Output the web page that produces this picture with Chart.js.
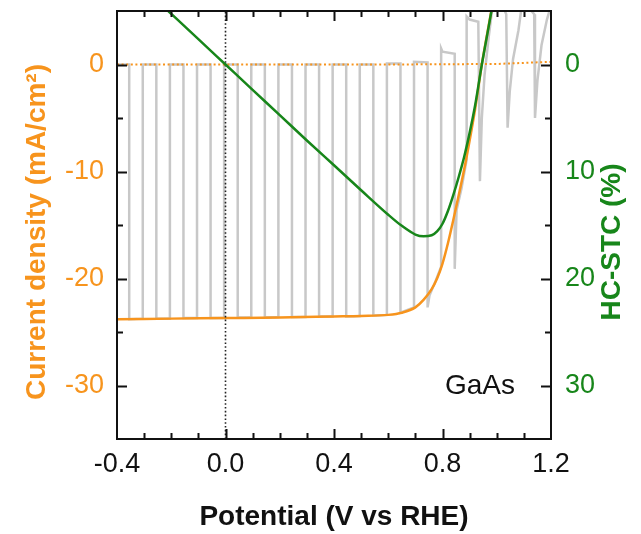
<!DOCTYPE html>
<html>
<head>
<meta charset="utf-8">
<title>GaAs chopped J-V</title>
<script src="https://cdn.jsdelivr.net/npm/chart.js@4.4.1/dist/chart.umd.min.js"></script>
<style>
  html, body { margin: 0; padding: 0; background: #fff; }
  #jvChart { display: block; }
</style>
</head>
<body>
<canvas id="jvChart" width="641" height="534"></canvas>
<script>
// axis ticks
var potTicks = [-0.4, 0.0, 0.4, 0.8, 1.2];
var curTicks = [-30, -20, -10, 0];
var stcTicks = [0, 10, 20, 30];

// light current (mA/cm2) vs potential (V vs RHE)
var lightV = [-0.4, -0.2, 0.0, 0.2, 0.4, 0.5, 0.6, 0.65, 0.7, 0.73, 0.76, 0.78, 0.80, 0.82, 0.84, 0.86, 0.88, 0.90, 0.92, 0.945, 0.97, 1.0];
var lightJ = [-23.8, -23.75, -23.7, -23.65, -23.55, -23.5, -23.4, -23.2, -22.7, -22.0, -21.0, -20.0, -18.6, -16.7, -14.5, -12.2, -9.8, -7.1, -4.2, 0.0, 3.6, 7.8];

// dark current
var darkV = [-0.4, 0.6, 1.0, 1.2];
var darkJ = [0.0, 0.0, 0.05, 0.25];

// half-cell solar-to-current efficiency (%)
var stcV = [-0.22, -0.1, 0.0, 0.1, 0.2, 0.3, 0.4, 0.5, 0.6, 0.65, 0.7, 0.73, 0.76, 0.78, 0.80, 0.82, 0.84, 0.86, 0.88, 0.90, 0.92, 0.945, 0.97, 1.0];
var stcVal = [-5.2, -2.37, 0.0, 2.37, 4.73, 7.1, 9.42, 11.75, 14.04, 15.08, 15.89, 16.06, 15.96, 15.6, 14.88, 13.69, 12.18, 10.49, 8.62, 6.39, 3.86, 0.0, -3.5, -7.8];

// chopped illumination scan
var chopV = [
  -0.400, -0.355, -0.355, -0.305, -0.305, -0.255, -0.255, -0.205, -0.205, -0.155,
  -0.155, -0.105, -0.105, -0.055, -0.055, -0.005, -0.005,  0.045,  0.045,  0.095,
   0.095,  0.145,  0.145,  0.195,  0.195,  0.245,  0.245,  0.295,  0.295,  0.345,
   0.345,  0.395,  0.395,  0.445,  0.445,  0.495,  0.495,  0.545,  0.545,  0.595,
   0.595,  0.645,  0.645,  0.695,  0.695,  0.745,  0.745,  0.752,  0.775,  0.795,
   0.795,  0.800,  0.845,  0.845,  0.852,  0.870,  0.889,  0.889,  0.900,  0.932,
   0.938,  0.945,  0.955,  0.970,  0.985,  0.995,  1.035,  1.040,  1.048,  1.060,
   1.080,  1.095,  1.138,  1.141,  1.150,  1.165,  1.185,  1.200
];
var chopJ = [
   0.0,   0.0, -23.8, -23.75,  0.0,  0.0, -23.75, -23.75, 0.0,  0.0,
  -23.7, -23.7,  0.0,   0.0, -23.7, -23.7,  0.0,   0.0, -23.65, -23.65,
   0.0,   0.0, -23.65, -23.6,  0.0,  0.0, -23.6, -23.6,  0.0,  0.0,
  -23.55, -23.55, 0.0,  0.0, -23.55, -23.5, 0.0,  0.0, -23.45, -23.4,
   0.1,   0.1, -23.2, -22.7,  0.25,  0.2, -22.7, -21.6, -20.2, -18.9,
   1.5,   1.2,   1.0, -19.1, -13.6, -11.6, -8.9,  4.5,  4.2,  4.0,
  -10.9,  -5.0, -1.0,  2.5,  5.5,  7.0,  4.7, -5.9, -2.5,  0.5,
   3.2,   6.0,   4.7, -5.0, -1.5,  1.8,  4.2,  5.5
];

// V = 0 guide
var zeroV = [0, 0];
var zeroJ = [-35, 5];

var ORANGE = '#f7941d';
var GREEN = '#17861a';
var FONT = "'Liberation Sans', Arial, sans-serif";

function toPoints(xs, ys) {
    return xs.map(function (x, i) { return { x: x, y: ys[i] }; });
}

function fixTicks(values) {
    return function (scale) {
        scale.ticks = values.map(function (v) { return { value: v }; });
    };
}

// fixed axis box, no extra room for half tick labels
function fixSize(w, h) {
    return function (scale) {
        if (w) scale.width = w;
        if (h) scale.height = h;
        scale.paddingTop = 0;
        scale.paddingBottom = 0;
        scale.paddingLeft = 0;
        scale.paddingRight = 0;
    };
}

// frame, inward tick marks, y titles and sample label
var axisDecor = {
    id: 'axisDecor',
    afterDatasetsDraw: function (chart) {
        var ctx = chart.ctx;
        var a = chart.chartArea;
        var xs = chart.scales.x, yl = chart.scales.y, yr = chart.scales.y2;

        ctx.save();
        ctx.strokeStyle = '#111';
        ctx.lineWidth = 2;
        ctx.beginPath();
        for (var k = -3; k <= 11; k++) {
            var px = Math.round(xs.getPixelForValue(k / 10)) + 0.5;
            var len = (k % 4 === 0) ? 10 : 6;
            ctx.moveTo(px, a.bottom);
            ctx.lineTo(px, a.bottom - len);
            ctx.moveTo(px, a.top);
            ctx.lineTo(px, a.top + len);
        }
        for (var j = -30; j <= 0; j += 5) {
            var py = Math.round(yl.getPixelForValue(j)) + 0.5;
            ctx.moveTo(a.left, py);
            ctx.lineTo(a.left + (j % 10 === 0 ? 10 : 6), py);
        }
        for (var s = 0; s <= 30; s += 5) {
            var ry = Math.round(yr.getPixelForValue(s)) + 0.5;
            ctx.moveTo(a.right, ry);
            ctx.lineTo(a.right - (s % 10 === 0 ? 10 : 6), ry);
        }
        ctx.stroke();
        ctx.strokeRect(a.left, a.top, a.right - a.left, a.bottom - a.top);

        ctx.textAlign = 'center';
        ctx.textBaseline = 'middle';

        ctx.fillStyle = '#111';
        ctx.font = '28px ' + FONT;
        ctx.fillText('GaAs', 480, 386);

        ctx.font = 'bold 28px ' + FONT;
        ctx.fillStyle = ORANGE;
        ctx.translate(37, 232);
        ctx.rotate(-Math.PI / 2);
        ctx.fillText('Current density (mA/cm\u00B2)', 0, 0);
        ctx.restore();

        ctx.save();
        ctx.font = 'bold 28px ' + FONT;
        ctx.fillStyle = GREEN;
        ctx.textAlign = 'center';
        ctx.textBaseline = 'middle';
        ctx.translate(612, 242);
        ctx.rotate(-Math.PI / 2);
        ctx.fillText('HC-STC (%)', 0, 0);
        ctx.restore();
    }
};

var ctx = document.getElementById('jvChart').getContext('2d');
var chart = new Chart(ctx, {
    type: 'line',
    data: {
        datasets: [{
            label: 'HC-STC',
            data: toPoints(stcV, stcVal),
            yAxisID: 'y2',
            borderColor: GREEN,
            borderWidth: 2.5,
            cubicInterpolationMode: 'monotone',
            pointRadius: 0,
            clip: 0
        }, {
            label: 'V = 0',
            data: toPoints(zeroV, zeroJ),
            yAxisID: 'y',
            borderColor: '#222',
            borderWidth: 1.6,
            borderDash: [1.6, 2.2],
            pointRadius: 0,
            clip: 0
        }, {
            label: 'light',
            data: toPoints(lightV, lightJ),
            yAxisID: 'y',
            borderColor: ORANGE,
            borderWidth: 2.5,
            cubicInterpolationMode: 'monotone',
            pointRadius: 0,
            clip: 0
        }, {
            label: 'dark',
            data: toPoints(darkV, darkJ),
            yAxisID: 'y',
            borderColor: ORANGE,
            borderWidth: 2,
            borderDash: [2, 2.6],
            pointRadius: 0,
            clip: 0
        }, {
            label: 'chopped',
            data: toPoints(chopV, chopJ),
            yAxisID: 'y',
            borderColor: '#c8c8c8',
            borderWidth: 2.5,
            tension: 0,
            pointRadius: 0,
            clip: 0
        }]
    },
    options: {
        responsive: false,
        animation: false,
        devicePixelRatio: 1,
        layout: { padding: { top: 11, left: 0, right: 0, bottom: 0 } },
        plugins: {
            legend: { display: false },
            tooltip: { enabled: false }
        },
        scales: {
            x: {
                type: 'linear',
                min: -0.4,
                max: 1.2,
                afterBuildTicks: fixTicks(potTicks),
                afterFit: fixSize(0, 95),
                grid: { display: false, drawTicks: false },
                border: { display: false },
                ticks: {
                    color: '#111',
                    padding: 9,
                    font: { family: FONT, size: 27 },
                    callback: function (v) { return Number(v).toFixed(1); }
                },
                title: {
                    display: true,
                    text: 'Potential (V vs RHE)',
                    color: '#111',
                    padding: { top: 0, bottom: 0 },
                    font: { family: FONT, size: 28, weight: 'bold' }
                }
            },
            y: {
                type: 'linear',
                position: 'left',
                min: -35,
                max: 5,
                afterBuildTicks: fixTicks(curTicks),
                afterFit: fixSize(117, 0),
                grid: { display: false, drawTicks: false },
                border: { display: false },
                ticks: {
                    color: ORANGE,
                    padding: 13,
                    font: { family: FONT, size: 27 }
                }
            },
            y2: {
                type: 'linear',
                position: 'right',
                reverse: true,
                min: -5,
                max: 35,
                afterBuildTicks: fixTicks(stcTicks),
                afterFit: fixSize(90, 0),
                grid: { display: false, drawTicks: false },
                border: { display: false },
                ticks: {
                    color: GREEN,
                    padding: 14,
                    font: { family: FONT, size: 27 }
                }
            }
        }
    },
    plugins: [axisDecor]
});
</script>
</body>
</html>
